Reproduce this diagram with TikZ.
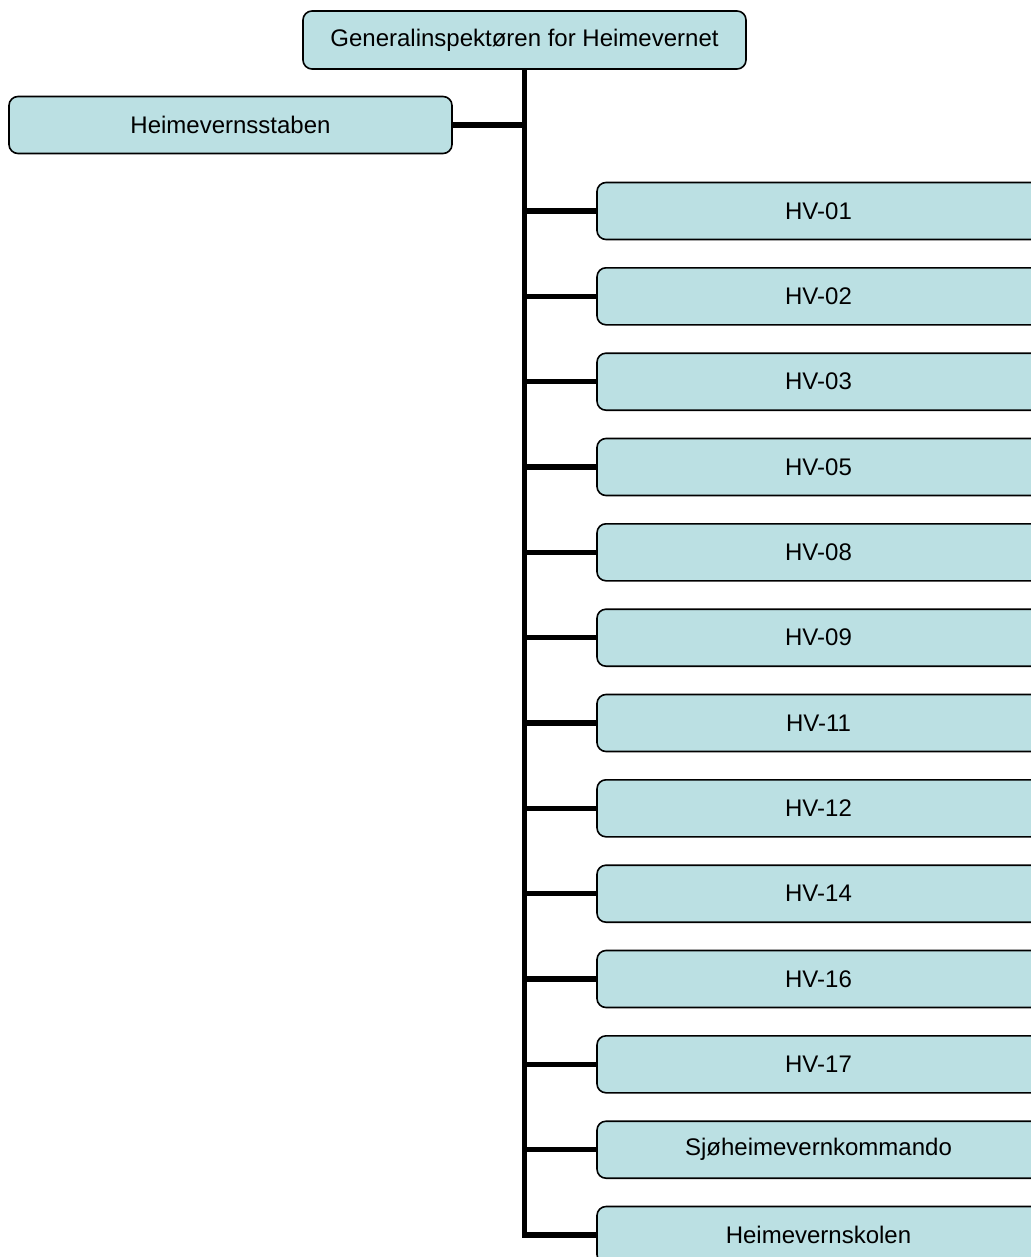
\documentclass[tikz,border=0pt]{standalone}
\usepackage{fontspec}
\setmainfont{Liberation Sans}
\usepackage{xcolor}
\usepackage{tikz}
\usetikzlibrary{shapes,positioning}
\definecolor{boxblue}{RGB}{187,224,227}
\tikzset{box/.style={rectangle,rounded corners=9pt,draw,line width=1.6pt,fill=boxblue,minimum width=443pt,minimum height=57pt,inner sep=0pt,font=\fontsize{24}{28}\selectfont}}
\tikzset{lnk/.style={line width=5.5pt}}

\begin{document}
\begin{tikzpicture}[x=1pt,y=-1pt]
        \useasboundingbox (0,0) rectangle (1030,1257);
        \node[box,minimum height=58pt] (a)at (524.5,40) {Generalinspektøren for Heimevernet};
        \node[box] (b)at (230.5,125) {Heimevernsstaben};
        \node[box] (c)at (818.5,211) {HV-01};
        \node[box] (d)at (818.5,296.3) {HV-02};
        \node[box] (e)at (818.5,381.7) {HV-03};
        \node[box] (f)at (818.5,467) {HV-05};
        \node[box] (g)at (818.5,552.3) {HV-08};
        \node[box] (h)at (818.5,637.7) {HV-09};
        \node[box] (i)at (818.5,723) {HV-11};
        \node[box] (j)at (818.5,808.3) {HV-12};
        \node[box] (k)at (818.5,893.7) {HV-14};
        \node[box] (l)at (818.5,979) {HV-16};
        \node[box] (m)at (818.5,1064.3) {HV-17};
        \node[box] (n)at (818.5,1149.7) {Sjøheimevernkommando};
        \node[box] (o)at (818.5,1235) {Heimevernskolen};

        \draw [lnk] (a.south) |- (b.east);
        \draw [lnk] (a.south) |- (c.west);
        \draw [lnk] (a.south) |- (d.west);
        \draw [lnk] (a.south) |- (e.west);
        \draw [lnk] (a.south) |- (f.west);
        \draw [lnk] (a.south) |- (g.west);
        \draw [lnk] (a.south) |- (h.west);
        \draw [lnk] (a.south) |- (i.west);
        \draw [lnk] (a.south) |- (j.west);
        \draw [lnk] (a.south) |- (k.west);
        \draw [lnk] (a.south) |- (l.west);
        \draw [lnk] (a.south) |- (m.west);
        \draw [lnk] (a.south) |- (n.west);
        \draw [lnk] (a.south) |- (o.west);
    \end{tikzpicture}
\end{document}
